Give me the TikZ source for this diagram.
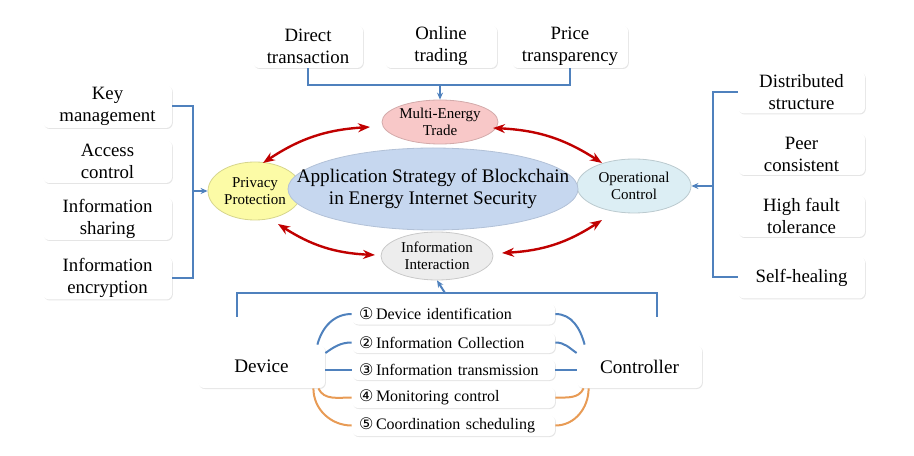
\documentclass[tikz,border=0pt]{standalone}
\usepackage{fontspec}
\setmainfont{Liberation Serif}
\newfontfamily\circfont{DejaVu Sans}
\usetikzlibrary{arrows.meta,shadows,calc,shapes.geometric}

\definecolor{lineblue}{HTML}{4F81BD}
\definecolor{lineorange}{HTML}{E89B55}
\definecolor{arrowred}{HTML}{C00000}
\definecolor{tradefill}{HTML}{F8C8C8}
\definecolor{privfill}{HTML}{FCFBA6}
\definecolor{corefill}{HTML}{C6D7EF}
\definecolor{opfill}{HTML}{DCEEF4}
\definecolor{infofill}{HTML}{EDEDED}

\tikzset{
	card/.style={fill=white, rounded corners=3pt, align=center, inner sep=0pt,
		drop shadow={shadow xshift=0.4pt, shadow yshift=-0.5pt, fill=black, opacity=0.1},
		font=\fontsize{9.4}{11}\selectfont},
	bigcard/.style={card, minimum height=21.5pt},
	stepcard/.style={card, minimum height=10.5pt, text width=94.5pt, inner xsep=3.5pt,
		align=left, font=\fontsize{8}{9}\selectfont},
	topic/.style={ellipse, inner sep=0pt, line width=0.4pt},
	topictext/.style={align=center, inner sep=0pt, font=\fontsize{7.5}{8.6}\selectfont},
	bracket/.style={draw=lineblue, line width=1pt},
	feed/.style={lineblue, line width=1pt, -{Stealth[length=3.5pt,width=3pt]}},
	link/.style={arrowred, line width=1.2pt,
		{Stealth[length=6pt,width=4.5pt]}-{Stealth[length=6pt,width=4.5pt]}},
	wire/.style={line width=1pt},
}

\begin{document}
\begin{tikzpicture}[x=0.5pt,y=0.5pt]

	\useasboundingbox (0,0) rectangle (914,455);

	% ---- trade features

	\node[bigcard, minimum width=55pt] (dt) at (308,408.5) {Direct\\transaction};
	\node[bigcard, minimum width=56pt] (ot) at (441,408.5) {Online\\trading};
	\node[bigcard, minimum width=58pt] (prt) at (570,408.5) {Price\\transparency};

	% ---- privacy features

	\foreach \name/\ypos/\txt in {km/348.5/{Key\\management}, ac/293.5/{Access\\control},
		ishr/236.5/{Information\\sharing}, ienc/177/{Information\\encryption}} {
		\node[bigcard, minimum width=64.5pt] (\name) at (107.5,\ypos) {\txt};
	}

	% ---- control features

	\foreach \name/\ypos/\txt in {ds/362.5/{Distributed\\structure}, pc/301/{Peer\\consistent},
		hf/239/{High fault\\tolerance}, sh/177.5/{Self-healing}} {
		\node[bigcard, minimum width=63.5pt, minimum height=21pt] (\name) at (801.5,\ypos) {\txt};
	}

	% ---- ellipses

	\node[topic, fill=privfill, draw=privfill!85!black, minimum width=47pt, minimum height=29pt] (priv) at (255,264) {};
	\node[topictext] (privtxt) at (priv) {Privacy\\Protection};
	\node[topic, fill=opfill, draw=opfill!85!black, minimum width=57pt, minimum height=27pt] (op) at (634,269) {};
	\node[topictext] (optxt) at (op) {Operational\\Control};
	\node[topic, fill=corefill, draw=corefill!90!black, minimum width=145pt, minimum height=41pt] (core) at (433,266) {};
	\node[align=center, inner sep=0pt, font=\fontsize{9.6}{11}\selectfont] (coretxt) at (core) {Application Strategy of Blockchain\\in Energy Internet Security};
	\node[topic, fill=tradefill, draw=tradefill!85!black, minimum width=58pt, minimum height=22pt] (met) at (440,333) {};
	\node[topictext] (mettxt) at (met) {Multi-Energy\\Trade};
	\node[topic, fill=infofill, draw=infofill!85!black, minimum width=56pt, minimum height=24pt] (ii) at (437,199) {};
	\node[topictext] (iitxt) at (ii) {Information\\Interaction};

	% ---- brackets

	\draw[bracket] (dt.south) -- ++(0,-17) -| (prt.south);
	\coordinate (topjoin) at (440,370);
	\draw[feed] (topjoin) -- (met.north);

	\draw[bracket] (km.east) -- ++(21,0) |- (ienc.east);
	\coordinate (leftjoin) at (193,264);
	\draw[feed] (leftjoin) -- (priv.west);

	\draw[bracket] (ds.west) -- ++(-25,0) |- (sh.west);
	\coordinate (rightjoin) at (713,269);
	\draw[feed] (rightjoin) -- (op.east);

	\coordinate (botleft) at (237,138);
	\coordinate (botright) at (657,138);
	\draw[bracket] (botleft) -- ++(0,24) -| (botright);
	\coordinate (botjoin) at (445,162);
	\draw[feed] (botjoin) -- (ii.south);

	% ---- red links

	\coordinate (a1) at (263,292); \coordinate (a2) at (370,328);
	\coordinate (b1) at (493,327); \coordinate (b2) at (602,292);
	\coordinate (c1) at (278,231); \coordinate (c2) at (375,200);
	\coordinate (d1) at (502,202); \coordinate (d2) at (602,235);
	\draw[link] (a1) to[bend left=15] (a2);
	\draw[link] (b1) to[bend left=15] (b2);
	\draw[link] (c1) to[bend right=15] (c2);
	\draw[link] (d1) to[bend right=15] (d2);

	% ---- interaction steps

	\foreach \i/\ypos/\num/\txt in {1/141/①/Device identification, 2/112.5/②/Information Collection,
		3/85.5/③/Information transmission, 4/57.5/④/Monitoring control, 5/29.5/⑤/Coordination scheduling} {
		\node[stepcard] (s\i) at (453.5,\ypos) {{\circfont\fontsize{8}{9}\selectfont\num}\,\txt};
	}

	\node[bigcard, minimum width=63.5pt, font=\fontsize{9.6}{11}\selectfont] (dv) at (261.5,88.5) {Device};
	\node[bigcard, minimum width=62.5pt, font=\fontsize{9.6}{11}\selectfont] (ct) at (639.5,88.5) {Controller};

	\draw[wire, lineblue] ($(dv.north east)+(-8,0)$) to[out=75,in=180] (s1.west);
	\draw[wire, lineblue] ($(dv.east)+(0,13.5)$) to[out=35,in=180] (s2.west);
	\draw[wire, lineblue] (s3.west -| dv.east) -- (s3.west);
	\draw[wire, lineorange] ($(dv.south east)+(-7,0)$) to[out=-65,in=180] (s4.west);
	\draw[wire, lineorange] ($(dv.south east)+(-12,0)$) to[out=-90,in=180] (s5.west);

	\draw[wire, lineblue] (s1.east) to[out=0,in=105] ($(ct.north west)+(8,0)$);
	\draw[wire, lineblue] (s2.east) to[out=0,in=145] ($(ct.west)+(0,13.5)$);
	\draw[wire, lineblue] (s3.east) -- (s3.east -| ct.west);
	\draw[wire, lineorange] (s4.east) to[out=0,in=-115] ($(ct.south west)+(7,0)$);
	\draw[wire, lineorange] (s5.east) to[out=0,in=-90] ($(ct.south west)+(12,0)$);

\end{tikzpicture}
\end{document}
